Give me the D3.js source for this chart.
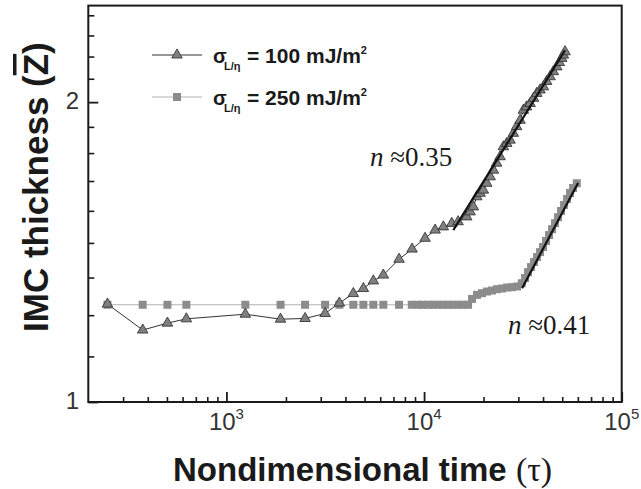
<!DOCTYPE html>
<html><head><meta charset="utf-8">
<script src="https://cdn.jsdelivr.net/npm/d3@7"></script>
<style>body{margin:0;background:#fff} svg{display:block}</style>
</head><body>
<svg id="c" width="641" height="489"></svg>
<script>
// ---------- data ----------
const tri_t = [250, 377, 503, 627, 1246, 1878, 2500, 3156, 3729, 4387, 4930, 5538, 6222, 7472, 8694,
  10116, 11370, 12518, 13806, 14860, 16440, 17100, 17760, 18480, 19200, 19950, 20760, 21600, 22420, 23300,
  24240, 25190, 26200, 27240, 28300, 29400, 30600, 31800, 33000, 34390, 35800, 37180, 38600, 40150,
  41700, 43410, 45100, 46930, 48300, 49740, 50700, 51690];
const tri_z = [1.254, 1.181, 1.200, 1.212, 1.225, 1.211, 1.213, 1.227, 1.257, 1.285, 1.300, 1.323, 1.341, 1.391, 1.424,
  1.460, 1.488, 1.499, 1.511, 1.517, 1.534, 1.552, 1.570, 1.607, 1.620, 1.632, 1.658, 1.683, 1.709, 1.737,
  1.763, 1.804, 1.818, 1.832, 1.861, 1.890, 1.918, 1.963, 1.978, 1.994, 2.018, 2.041, 2.057, 2.072,
  2.098, 2.121, 2.146, 2.170, 2.192, 2.213, 2.230, 2.247];

const sq_t = [250, 377, 503, 627, 1246, 1878, 2500, 3156, 3729, 4387, 4930, 5538, 6222, 7472, 8663,
  9322, 9881, 10474, 11103, 11770, 12474, 13224, 14017, 14858, 15750, 16695,
  17490, 18540, 19650, 20830, 22080, 23410, 24810, 26300, 27880, 29550,
  31220, 32440, 33590, 34780, 36020, 37290, 38630, 40000, 41430, 42900,
  44430, 46000, 47640, 49340, 51100, 52920, 54790, 56750, 59250];
const sq_z = [1.252, 1.252, 1.252, 1.252, 1.252, 1.252, 1.252, 1.252, 1.252, 1.252, 1.252, 1.252, 1.252, 1.252, 1.252,
  1.252, 1.252, 1.252, 1.252, 1.252, 1.252, 1.252, 1.252, 1.252, 1.252, 1.252,
  1.269, 1.281, 1.286, 1.291, 1.294, 1.298, 1.300, 1.303, 1.304, 1.306,
  1.316, 1.332, 1.350, 1.366, 1.382, 1.398, 1.414, 1.431, 1.451, 1.471,
  1.491, 1.512, 1.533, 1.555, 1.577, 1.599, 1.621, 1.640, 1.658];

const fit1_t = [14060, 51680];
const fit1_z = [1.488, 2.255];
const fit2_t = [31330, 60140];
const fit2_z = [1.301, 1.659];

const xMajor = [1e3, 1e4, 1e5];
const xMajorExp = ["3", "4", "5"];
const xMinor = [300, 400, 500, 600, 700, 800, 900, 2000, 3000, 4000, 5000, 6000, 7000, 8000, 9000,
  20000, 30000, 40000, 50000, 60000, 70000, 80000, 90000];
const yMajor = [1, 2];
const yMajorLabels = ["1", "2"];
const yMinor = [10/9, 11/9, 12/9, 13/9, 14/9, 15/9, 16/9, 17/9, 19/9, 20/9, 21/9, 22/9];

const legendLabels = ["100", "250"];

// ---------- chart ----------
const svg = d3.select("#c");
const SANS = "'Liberation Sans', Arial, sans-serif";
const SERIF = "'Liberation Serif', 'Times New Roman', serif";

const x = d3.scaleLog().domain([200, 1e5]).range([88.3, 621.7]);
const y = d3.scaleLog().domain([1, 2.5]).range([402, 5.6]);

// frame
svg.append("rect")
  .attr("x", x(200)).attr("y", y(2.5))
  .attr("width", x(1e5) - x(200)).attr("height", y(1) - y(2.5))
  .attr("fill", "none").attr("stroke", "#1a1a1a").attr("stroke-width", 2);

function styleAxis(g, w) {
  g.select(".domain").remove();
  g.selectAll(".tick line").attr("stroke", "#1a1a1a").attr("stroke-width", w);
  g.selectAll(".tick text").remove();
}
// x axis ticks (inward)
svg.append("g").attr("transform", `translate(0,${y(1)})`)
  .call(d3.axisBottom(x).tickValues(xMinor).tickSize(-5).tickFormat(() => ""))
  .call(g => styleAxis(g, 1.6));
svg.append("g").attr("transform", `translate(0,${y(1)})`)
  .call(d3.axisBottom(x).tickValues(xMajor).tickSize(-10).tickFormat(() => ""))
  .call(g => styleAxis(g, 1.8));
// y axis ticks (inward)
svg.append("g").attr("transform", `translate(${x(200)},0)`)
  .call(d3.axisLeft(y).tickValues(yMinor).tickSize(-6).tickFormat(() => ""))
  .call(g => styleAxis(g, 1.6));
svg.append("g").attr("transform", `translate(${x(200)},0)`)
  .call(d3.axisLeft(y).tickValues(yMajor).tickSize(-10).tickFormat(() => ""))
  .call(g => styleAxis(g, 1.8));

// x tick labels 10^n
const xl = svg.append("g").selectAll("text").data(xMajor).join("text")
  .attr("x", d => x(d)).attr("y", 430)
  .attr("text-anchor", "middle")
  .attr("font-family", SANS).attr("font-size", 24).attr("fill", "#333");
xl.append("tspan").text("10");
xl.append("tspan").attr("dy", -11).attr("font-size", 15).text((d, i) => xMajorExp[i]);

// y tick labels
svg.append("g").selectAll("text").data(yMajor).join("text")
  .attr("x", 79).attr("y", d => y(d) + 7)
  .attr("text-anchor", "end")
  .attr("font-family", SANS).attr("font-size", 24).attr("fill", "#333")
  .text((d, i) => yMajorLabels[i]);

// axis titles
const xt = svg.append("text").attr("x", 173).attr("y", 481)
  .attr("font-family", SANS).attr("font-weight", "bold").attr("font-size", 33).attr("fill", "#1a1a1a");
xt.append("tspan").text("Nondimensional time ");
xt.append("tspan").attr("font-family", SERIF).attr("font-weight", "normal").attr("font-size", 34).text("(\u03C4)");

const yt = svg.append("text").attr("transform", "translate(48,332) rotate(-90)")
  .attr("font-family", SANS).attr("font-weight", "bold").attr("font-size", 35).attr("fill", "#1a1a1a");
yt.append("tspan").text("IMC thickness (");
yt.append("tspan").style("text-decoration", "overline").text("Z");
yt.append("tspan").text(")");

// series
const triData = tri_t.map((t, i) => [t, tri_z[i]]);
const sqData = sq_t.map((t, i) => [t, sq_z[i]]);
const line = d3.line().x(d => x(d[0])).y(d => y(d[1]));

svg.append("path").datum(sqData).attr("d", line)
  .attr("fill", "none").attr("stroke", "#b3b3b3").attr("stroke-width", 1.2);
svg.append("path").datum(triData).attr("d", line)
  .attr("fill", "none").attr("stroke", "#333").attr("stroke-width", 1);

const sqSym = d3.symbol(d3.symbolSquare, 64);
const triSym = d3.symbol(d3.symbolTriangle, 48);

svg.append("g").selectAll("path").data(sqData).join("path")
  .attr("d", sqSym).attr("transform", d => `translate(${x(d[0])},${y(d[1])})`)
  .attr("fill", "#8c8c8c");
svg.append("g").selectAll("path").data(triData).join("path")
  .attr("d", triSym).attr("transform", d => `translate(${x(d[0])},${y(d[1])})`)
  .attr("fill", "#808080").attr("stroke", "#2a2a2a").attr("stroke-width", 0.8);

// fit lines
const fit1 = fit1_t.map((t, i) => [t, fit1_z[i]]);
const fit2 = fit2_t.map((t, i) => [t, fit2_z[i]]);
[fit1, fit2].forEach(f => svg.append("path").datum(f).attr("d", line)
  .attr("fill", "none").attr("stroke", "#111").attr("stroke-width", 2.2));

// annotations
function annot(px, py, val) {
  const t = svg.append("text").attr("x", px).attr("y", py)
    .attr("font-family", SERIF).attr("font-size", 27).attr("fill", "#1a1a1a");
  t.append("tspan").attr("font-style", "italic").text("n");
  t.append("tspan").text(" \u2248" + val);
}
annot(370, 166, "0.35");
annot(508, 334, "0.41");

// legend
const legRows = [
  {y: 55, stroke: "#333", sym: triSym, fill: "#808080", st: "#2a2a2a"},
  {y: 97, stroke: "#b3b3b3", sym: sqSym, fill: "#8c8c8c", st: "none"}
];
legRows.forEach((r, i) => {
  svg.append("line").attr("x1", 152).attr("x2", 202).attr("y1", r.y).attr("y2", r.y)
    .attr("stroke", r.stroke).attr("stroke-width", 1.2);
  svg.append("path").attr("d", r.sym).attr("transform", `translate(177,${r.y})`)
    .attr("fill", r.fill).attr("stroke", r.st).attr("stroke-width", 0.8);
  const base = r.y + 8;
  svg.append("text").attr("x", 213).attr("y", base)
    .attr("font-family", SANS).attr("font-weight", "bold").attr("font-size", 20).attr("fill", "#1a1a1a")
    .text("\u03C3");
  svg.append("text").attr("x", 224).attr("y", base + 7)
    .attr("font-family", SANS).attr("font-weight", "bold").attr("font-size", 11).attr("fill", "#1a1a1a")
    .text("L/\u03B7");
  const t = svg.append("text").attr("x", 247).attr("y", base)
    .attr("font-family", SANS).attr("font-weight", "bold").attr("font-size", 21).attr("fill", "#1a1a1a");
  t.append("tspan").text("= " + legendLabels[i] + " mJ/m");
  t.append("tspan").attr("dy", -9).attr("font-size", 11).text("2");
});
</script>
</body></html>
